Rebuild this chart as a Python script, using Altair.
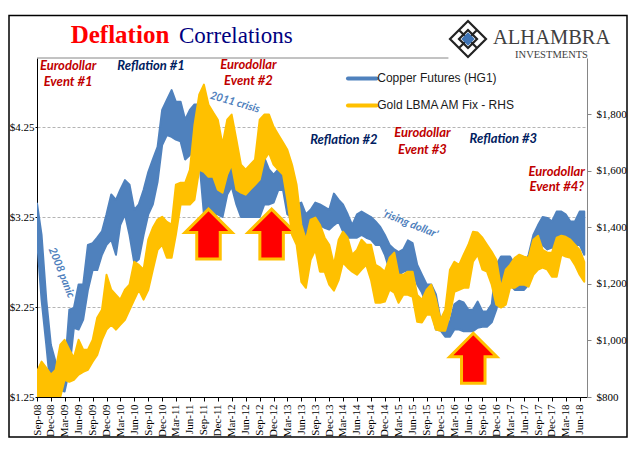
import altair as alt
import pandas as pd

copper_high = [3.40,3.05,2.33,1.83,1.64,1.58,1.53,2.22,2.24,2.50,2.50,2.94,2.96,3.02,3.09,3.28,3.50,3.44,3.55,3.66,
               3.61,3.33,3.39,3.55,3.75,3.89,4.03,4.44,4.55,4.66,4.53,4.53,4.33,4.44,4.50,4.50,4.11,3.78,3.89,3.78,
               3.72,3.83,3.91,3.89,3.55,3.55,3.72,3.72,3.85,3.91,3.78,3.72,3.78,3.80,3.72,3.55,3.39,3.41,3.28,3.33,
               3.41,3.39,3.36,3.33,3.51,3.44,3.39,3.28,3.16,3.28,3.31,3.28,3.25,3.20,3.14,3.05,2.94,2.89,2.86,2.89,
               2.99,2.96,2.72,2.61,2.50,2.50,2.39,2.11,2.05,2.09,2.28,2.32,2.30,2.22,2.22,2.31,2.20,2.20,2.28,2.72,
               2.81,2.81,2.81,2.72,2.61,2.72,2.83,3.05,3.16,3.25,3.24,3.20,3.31,3.31,3.28,3.20,3.20,3.31,3.31]
copper_low = [3.00,2.33,1.83,1.31,1.39,1.33,1.31,1.55,2.02,2.00,2.11,2.44,2.66,2.66,2.83,2.94,3.00,2.83,3.16,3.28,
              3.05,2.74,2.78,3.05,3.28,3.39,3.64,4.05,4.16,4.14,4.11,4.09,3.89,3.94,4.00,3.89,3.28,3.28,3.28,3.28,
              3.25,3.50,3.59,3.39,3.25,3.25,3.25,3.25,3.25,3.39,3.39,3.41,3.55,3.55,3.28,3.24,3.24,3.16,3.02,3.02,
              3.16,3.16,3.13,3.11,3.16,3.20,3.09,3.02,3.02,3.02,3.05,3.02,3.00,2.94,2.94,2.83,2.66,2.46,2.61,2.64,
              2.66,2.64,2.50,2.41,2.28,2.22,2.00,1.99,1.92,1.92,2.00,2.00,1.98,1.98,1.98,2.02,2.03,2.03,2.08,2.22,
              2.44,2.50,2.50,2.44,2.44,2.44,2.50,2.66,2.89,2.94,2.89,2.91,2.89,2.91,2.94,2.94,2.94,2.94,2.83]
gold_high = [889,925,903,879,896,985,1002,967,939,1002,967,967,1002,1080,1108,1232,1179,1161,1144,1179,
             1197,1278,1267,1250,1356,1398,1427,1437,1419,1409,1550,1557,1557,1603,1762,1868,1904,1833,1805,1780,
             1692,1780,1798,1709,1621,1603,1621,1639,1780,1798,1798,1755,1727,1699,1674,1621,1550,1409,1356,1427,
             1434,1409,1363,1338,1267,1356,1384,1363,1303,1320,1356,1338,1338,1267,1257,1243,1292,1310,1232,1232,
             1243,1243,1161,1144,1179,1197,1144,1073,1108,1250,1278,1267,1303,1338,1384,1381,1363,1338,1313,1285,
             1186,1250,1267,1292,1303,1296,1292,1356,1370,1320,1310,1310,1363,1370,1366,1356,1338,1320,1278]
gold_low = [800,800,800,800,800,800,861,854,861,879,889,896,925,949,1002,1038,1055,1038,1055,1073,
            1108,1144,1179,1144,1179,1250,1320,1338,1292,1292,1373,1480,1480,1480,1497,1603,1596,1578,1578,1533,
            1522,1586,1621,1533,1522,1515,1533,1550,1568,1639,1663,1621,1603,1586,1497,1373,1338,1207,1186,1285,
            1320,1243,1243,1197,1176,1214,1275,1257,1243,1232,1250,1267,1214,1133,1133,1137,1179,1169,1133,1161,
            1161,1154,1066,1063,1091,1091,1038,1034,1034,1091,1172,1179,1186,1186,1278,1303,1250,1243,1197,1126,
            1116,1126,1186,1186,1197,1197,1190,1232,1250,1257,1250,1225,1225,1303,1296,1292,1267,1232,1207]
dates = [d.strftime("%Y-%m-%dT00:00:00") for d in pd.date_range("2008-09-01", periods=len(copper_high), freq="MS")]

left_ticks = [1.25, 2.25, 3.25, 4.25]
right_ticks = [800, 1000, 1200, 1400, 1600, 1800]

quarters = []
y, m = 2008, 9
while (y, m) <= (2018, 6):
    quarters.append(alt.DateTime(year=y, month=m, date=1))
    m += 3
    if m > 12:
        y, m = y + 1, m - 12

RED_TXT = "#C00000"
NAVY_TXT = "#002060"
BLUE = "#4F81BD"
GOLD = "#FFC000"
notes = [
    ("Eurodollar", "2009-03-24", 4.93, RED_TXT), ("Event #1", "2009-03-24", 4.75, RED_TXT),
    ("Reflation #1", "2010-09-19", 4.93, NAVY_TXT),
    ("Eurodollar", "2012-06-19", 4.94, RED_TXT), ("Event #2", "2012-06-19", 4.76, RED_TXT),
    ("Reflation #2", "2014-03-07", 4.11, NAVY_TXT),
    ("Eurodollar", "2015-08-04", 4.18, RED_TXT), ("Event #3", "2015-08-04", 4.00, RED_TXT),
    ("Reflation #3", "2017-01-16", 4.12, NAVY_TXT),
    ("Eurodollar", "2018-01-01", 3.75, RED_TXT), ("Event #4?", "2018-01-01", 3.58, RED_TXT),
]
slanted = [("2011 crisis", "2012-03-22", 4.52, 16), ("2008 panic", "2009-02-07", 2.63, 68), ("'rising dollar'", "2015-05-16", 3.17, 22)]
arrows = [("2011-10-01", 3.06), ("2012-11-18", 3.06), ("2016-07-03", 1.68)]
legend = [("Copper Futures (HG1)", 4.79, BLUE), ("Gold LBMA AM Fix - RHS", 4.49, GOLD)]
legend_from, legend_to, legend_label = "2014-04-03", "2014-10-07", "2014-10-12"

X_DOMAIN = [alt.DateTime(year=2008, month=9, date=1), alt.DateTime(year=2018, month=7, date=19)]
L_DOMAIN = [1.25, 5.0167]
R_DOMAIN = [800, 1998]
xs = alt.Scale(domain=X_DOMAIN)
ls = alt.Scale(domain=L_DOMAIN)
rs = alt.Scale(domain=R_DOMAIN)
SERIF = "Liberation Serif"

axis_x = alt.Axis(values=quarters, format="%b-%y", labelAngle=-90, labelFont=SERIF, labelFontSize=11,
                  labelColor="black", domainColor="black", tickColor="black", tickSize=4, labelPadding=3,
                  grid=False, title=None, labelOverlap=False, labelBound=False, labelFlush=False)
axis_l = alt.Axis(values=left_ticks, format="$.2f", labelFont=SERIF, labelFontSize=11, labelColor="black",
                  domainColor="black", tickColor="black", tickSize=2, labelPadding=1, title=None,
                  grid=True, gridColor="#B4B4B4", gridDash=[3, 2], gridWidth=1)
axis_r = alt.Axis(values=right_ticks, format="$,.0f", orient="right", labelFont=SERIF, labelFontSize=11,
                  labelColor="black", domainColor="#868686", tickColor="#868686", tickSize=4, labelPadding=5,
                  title=None, grid=False)
X = alt.X("d:T", scale=xs, axis=axis_x)
Y0 = alt.Y("v:Q", scale=ls, axis=None)

df = pd.DataFrame({"d": dates, "ch": copper_high, "cl": copper_low, "gh": gold_high, "gl": gold_low})

copper_band = alt.Chart(df).mark_area(color=BLUE, stroke=BLUE, strokeWidth=2, strokeJoin="round", clip=True, opacity=1).encode(
    x=X, y=alt.Y("ch:Q", scale=ls, axis=axis_l), y2="cl:Q")
gold_band = alt.Chart(df).mark_area(color=GOLD, stroke=GOLD, strokeWidth=2, strokeJoin="round", clip=True, opacity=1).encode(
    x=X, y=alt.Y("gh:Q", scale=rs, axis=axis_r), y2="gl:Q")

top_rule = alt.Chart(pd.DataFrame({"d": ["2008-09-01T00:00:00"], "e": ["2016-01-22T00:00:00"], "v": [L_DOMAIN[1]]})).mark_rule(
    color="#868686", strokeWidth=1).encode(x=X, x2="e:T", y=Y0)

ARROW = "M0,-1L0.94,-0.06L0.47,-0.06L0.47,1L-0.47,1L-0.47,-0.06L-0.94,-0.06Z"
arrow_marks = alt.Chart(pd.DataFrame(arrows, columns=["d", "v"])).mark_point(
    shape=ARROW, size=2500, filled=True, fill="#FF0000", stroke=GOLD, strokeWidth=3, opacity=1, strokeJoin="miter").encode(x=X, y=Y0)

layers = [copper_band, gold_band, top_rule, arrow_marks]

for txt, d, v, col in notes:
    layers.append(alt.Chart(pd.DataFrame({"d": [d], "v": [v], "t": [txt]})).mark_text(
        font="Lato", fontStyle="italic", fontWeight="bold", fontSize=13, color=col, baseline="middle", align="center"
    ).encode(x=X, y=Y0, text="t:N"))
for txt, d, v, ang in slanted:
    layers.append(alt.Chart(pd.DataFrame({"d": [d], "v": [v], "t": [txt]})).mark_text(
        font="Lato", fontStyle="italic", fontWeight="bold", fontSize=11, color=BLUE, angle=ang, baseline="middle", align="center"
    ).encode(x=X, y=Y0, text="t:N"))
for txt, v, col in legend:
    row = pd.DataFrame({"d": [legend_from], "e": [legend_to], "l": [legend_label], "v": [v], "t": [txt]})
    layers.append(alt.Chart(row).mark_rule(color=col, strokeWidth=4, strokeCap="round").encode(x=X, x2="e:T", y=Y0))
    layers.append(alt.Chart(row).mark_text(font="Liberation Sans", fontSize=12, color="#1A1A1A", align="left", baseline="middle").encode(
        x=alt.X("l:T", scale=xs, axis=axis_x), y=Y0, text="t:N"))

# frame, title and logo sit outside the plot area
one = pd.DataFrame({"a": [0]})
layers.append(alt.Chart(one).mark_rect(fillOpacity=0, stroke="black", strokeWidth=1.5).encode(
    x=alt.value(-28), x2=alt.value(590), y=alt.value(-42.5), y2=alt.value(379)))
def deco(text, px, py, **kw):
    return alt.Chart(pd.DataFrame({"t": [text]})).mark_text(**kw).encode(x=alt.value(px), y=alt.value(py), text="t:N")
layers.append(deco("Deflation", 33.7, -14.7, font=SERIF, fontWeight="bold", fontSize=25, color="#FF0000", align="left", baseline="alphabetic"))
layers.append(deco("Correlations", 142, -14.7, font=SERIF, fontSize=23, color="#000080", align="left", baseline="alphabetic"))
layers.append(deco("ALHAMBRA", 456, -14, font=SERIF, fontSize=20.5, color="#404040", align="left", baseline="alphabetic"))
layers.append(deco("INVESTMENTS", 514.5, -3, font=SERIF, fontSize=10.5, color="#404040", align="center", baseline="middle"))
LOGO = ("M0,-1L1,0L0,1L-1,0Z M-0.5,-0.5L0.5,0.5 M0.5,-0.5L-0.5,0.5 M0,-0.5L0.5,0L0,0.5L-0.5,0Z "
        "M-0.75,-0.25L-0.25,-0.75 M0.25,-0.75L0.75,-0.25 M0.75,0.25L0.25,0.75 M-0.25,0.75L-0.75,0.25")
for shape, size, kw in [("diamond", 1296, dict(filled=True, fill="white", stroke="white")),
                        (LOGO, 1296, dict(filled=False, stroke="#222222", strokeWidth=2.2)),
                        ("diamond", 110, dict(filled=True, fill="#3F74B5", stroke="#3F74B5"))]:
    layers.append(alt.Chart(one).mark_point(shape=shape, size=size, opacity=1, **kw).encode(x=alt.value(431), y=alt.value(-19)))

chart = alt.layer(*layers).resolve_scale(y="independent").properties(
    width=550, height=339,
    padding={"left": 29, "top": 50, "right": 45, "bottom": 45},
    autosize=alt.AutoSizeParams(type="none"),
    background="white",
).configure_view(stroke=None)

chart.save("out.html", embed_options={"renderer": "svg", "actions": False})
